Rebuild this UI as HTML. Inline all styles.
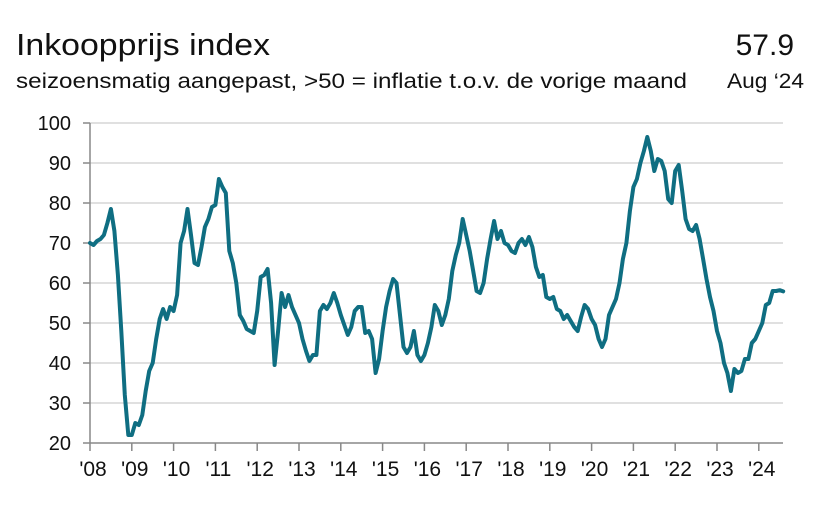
<!DOCTYPE html>
<html><head><meta charset="utf-8"><style>
body{margin:0;background:#fff;width:828px;height:506px;overflow:hidden;font-family:"Liberation Sans",Arial,sans-serif;}
</style></head><body>
<svg id="s" width="828" height="506" xmlns="http://www.w3.org/2000/svg" font-family="Liberation Sans, Arial, sans-serif">
<text x="16" y="55" font-size="31" fill="#111" textLength="254" lengthAdjust="spacingAndGlyphs">Inkoopprijs index</text>
<text x="16" y="88" font-size="21" fill="#111" textLength="671" lengthAdjust="spacingAndGlyphs">seizoensmatig aangepast, &gt;50 = inflatie t.o.v. de vorige maand</text>
<text x="794" y="55" font-size="30" fill="#111" text-anchor="end">57.9</text>
<text x="727" y="88" font-size="21" fill="#111" textLength="77" lengthAdjust="spacingAndGlyphs">Aug ‘24</text>
<g id="grid" stroke="#d6d6d6" stroke-width="1.5"></g>
<g id="lab" font-size="20" fill="#111"></g>
<line x1="90" y1="123" x2="90" y2="443" stroke="#888" stroke-width="1.5"/>
<line x1="90" y1="443" x2="783" y2="443" stroke="#888" stroke-width="1.5"/>
<g id="ticks" stroke="#888" stroke-width="1.5"></g>
<polyline id="ln" fill="none" stroke="#0f6e82" stroke-width="4" stroke-linejoin="round" stroke-linecap="round"/>
</svg>
<script>
var d=[70,69.5,70.5,71,72,75,78.5,73,62,48,32,22,
22,25,24.5,27,33,38,40,46,51,53.5,51,54,
53,57,70,73,78.5,72,65,64.5,69,74,76,79,
79.5,86,84,82.5,68,65,60,52,50.5,48.5,48,47.5,
53,61.5,62,63.5,55,39.5,48,57.5,54,57,54,52,
50,46,43,40.5,42,42,53,54.5,53.5,55,57.5,55,
52,49.5,47,49,53,54,54,47.5,48,46,37.5,41,
48,54,58,61,60,52,44,42.5,44,48,42,40.5,
42,45,49,54.5,53,49.5,52,56,63,67,70,76,
72,68,63,58,57.5,60,66,71,75.5,71,73,70,
69.5,68,67.5,70,71,69.5,71.5,69,64,61.5,62,56.5,
56,56.5,53.5,53,51,52,50.5,49,48,51.5,54.5,53.5,
51,49.5,46,44,46,52,54,56,60,66,70,78,
84,86,90,93,96.5,93,88,91,90.5,88,81,80,
88,89.5,83,76,73.5,73,74.5,71,66,61,56.5,53,
48,45,40,37.5,33,38.5,37.5,38,41,41,45,46,
48,50,54.5,55,58,58,58.2,57.9];
var X=function(i){return 90+i*41.8/12},Y=function(v){return 443-(v-20)*4};
var p=d.map(function(v,i){return X(i).toFixed(1)+','+Y(v).toFixed(1)}).join(' ');
document.getElementById('ln').setAttribute('points',p);
var ns='http://www.w3.org/2000/svg',g=document.getElementById('grid'),l=document.getElementById('lab'),t=document.getElementById('ticks');
function el(par,n,a,txt){var e=document.createElementNS(ns,n);for(var k in a)e.setAttribute(k,a[k]);if(txt)e.textContent=txt;par.appendChild(e);}
for(var v=30;v<=100;v+=10){el(g,'line',{x1:90,x2:783,y1:Y(v),y2:Y(v)});}
for(var v=20;v<=100;v+=10){el(l,'text',{x:71,y:Y(v)+7,'text-anchor':'end'},String(v));el(t,'line',{x1:83,x2:90,y1:Y(v),y2:Y(v)});}
for(var y=0;y<=16;y++){var x=90+y*41.8;el(t,'line',{x1:x,x2:x,y1:443,y2:451});
el(l,'text',{x:x+3,y:476,'text-anchor':'middle','font-size':21},"'"+String(8+y).padStart(2,'0'));}
</script>
</body></html>
